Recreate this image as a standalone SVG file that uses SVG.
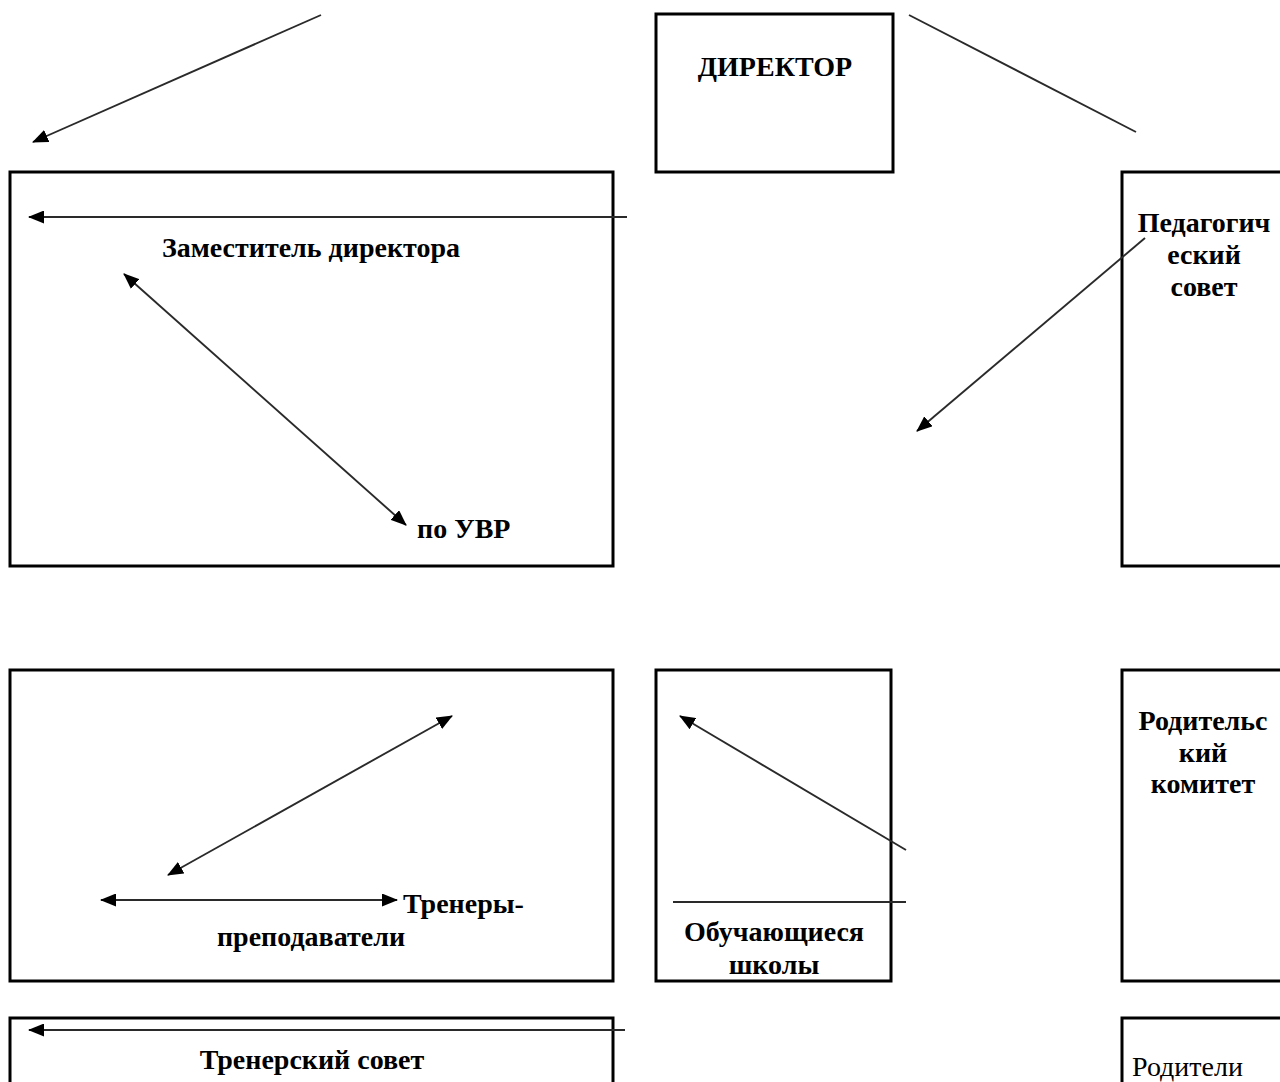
<svg xmlns="http://www.w3.org/2000/svg" width="1280" height="1082" viewBox="0 0 1280 1082">
<style>
.box{fill:#fff;stroke:#000;stroke-width:3}
.t{font-family:"Liberation Serif","Times New Roman",serif;font-size:28px;font-weight:bold;fill:#000}
.n{font-weight:normal}
.c{stroke:#2a2a2a;stroke-width:1.9;fill:none}
</style>
<defs>
<marker id="ah" markerWidth="16" markerHeight="13" refX="15" refY="6.5" orient="auto" markerUnits="userSpaceOnUse">
<path d="M0,0 L16,6.5 L0,13 Z" fill="#000"/>
</marker>
<marker id="as" markerWidth="16" markerHeight="13" refX="1" refY="6.5" orient="auto" markerUnits="userSpaceOnUse">
<path d="M16,0 L0,6.5 L16,13 Z" fill="#000"/>
</marker>
</defs>
<rect width="1280" height="1082" fill="#fff"/>
<g id="director"><rect class="box" x="656" y="14" width="237" height="158"/><text class="t" x="775" y="76" text-anchor="middle">ДИРЕКТОР</text></g>
<g id="zam"><rect class="box" x="10" y="172" width="603" height="394"/><text class="t" x="311" y="257" text-anchor="middle">Заместитель директора</text><text class="t" x="417" y="538">по УВР</text></g>
<g id="pedsovet"><rect class="box" x="1122" y="172" width="170" height="394"/><text class="t" text-anchor="middle"><tspan x="1204" y="232">Педагогич</tspan><tspan x="1204" y="264">еский</tspan><tspan x="1204" y="296">совет</tspan></text></g>
<g id="trenery"><rect class="box" x="10" y="670" width="603" height="311"/><text class="t" x="403" y="913">Тренеры-</text><text class="t" x="311" y="946" text-anchor="middle">преподаватели</text></g>
<g id="obuch"><rect class="box" x="656" y="670" width="235" height="311"/><text class="t" text-anchor="middle"><tspan x="774" y="941">Обучающиеся</tspan><tspan x="774" y="974">школы</tspan></text></g>
<g id="rodkom"><rect class="box" x="1122" y="670" width="170" height="311"/><text class="t" text-anchor="middle"><tspan x="1203" y="730">Родительс</tspan><tspan x="1203" y="762">кий</tspan><tspan x="1203" y="793">комитет</tspan></text></g>
<g id="trensovet"><rect class="box" x="10" y="1018" width="603" height="80"/><text class="t" x="312" y="1069" text-anchor="middle">Тренерский совет</text></g>
<g id="roditeli"><rect class="box" x="1122" y="1018" width="170" height="80"/><text class="t n" x="1132" y="1076">Родители</text></g>
<g id="connectors">
<line class="c" x1="321" y1="15" x2="33" y2="142" marker-end="url(#ah)"/>
<line class="c" x1="909" y1="15" x2="1136" y2="132"/>
<line class="c" x1="627" y1="217" x2="29" y2="217" marker-end="url(#ah)"/>
<line class="c" x1="124" y1="274" x2="406" y2="525" marker-start="url(#as)" marker-end="url(#ah)"/>
<line class="c" x1="1145" y1="238" x2="917" y2="431" marker-end="url(#ah)"/>
<line class="c" x1="452" y1="716" x2="168" y2="875" marker-start="url(#as)" marker-end="url(#ah)"/>
<line class="c" x1="101" y1="900" x2="397" y2="900" marker-start="url(#as)" marker-end="url(#ah)"/>
<line class="c" x1="906" y1="850" x2="680" y2="716" marker-end="url(#ah)"/>
<line class="c" x1="673" y1="902" x2="906" y2="902"/>
<line class="c" x1="625" y1="1030" x2="29" y2="1030" marker-end="url(#ah)"/>
</g>
</svg>
